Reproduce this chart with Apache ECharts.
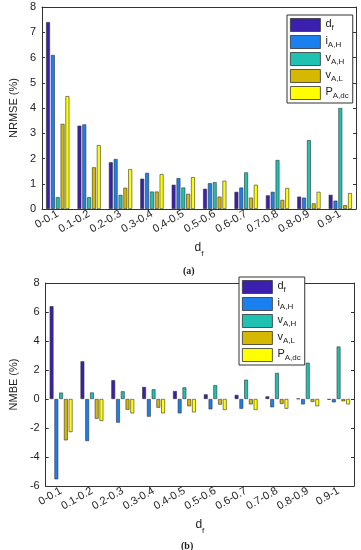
<!DOCTYPE html>
<html><head><meta charset="utf-8">
<script src="https://cdn.jsdelivr.net/npm/echarts@6/dist/echarts.min.js"></script>
<style>html,body{margin:0;padding:0;background:#fff}#c{width:361px;height:550px}</style>
</head><body><div id="c"></div>
<script>
const categories = ['0-0.1','0.1-0.2','0.2-0.3','0.3-0.4','0.4-0.5','0.5-0.6','0.6-0.7','0.7-0.8','0.8-0.9','0.9-1'];
const seriesNames = ['d_f','i_AH','v_AH','v_AL','P_Adc'];
// (a) NRMSE (%)
const nrmse_df  = [7.4, 3.3, 1.85, 1.2, 0.96, 0.8, 0.68, 0.54, 0.49, 0.56];
const nrmse_iAH = [6.1, 3.35, 1.98, 1.43, 1.22, 1.02, 0.85, 0.68, 0.45, 0.33];
const nrmse_vAH = [0.47, 0.47, 0.56, 0.69, 0.85, 1.06, 1.45, 1.94, 2.73, 4.0];
const nrmse_vAL = [3.37, 1.65, 0.84, 0.69, 0.6, 0.49, 0.45, 0.36, 0.22, 0.15];
const nrmse_PA  = [4.47, 2.53, 1.58, 1.38, 1.26, 1.12, 0.96, 0.83, 0.68, 0.63];
// (b) NMBE (%)
const nmbe_df  = [6.4, 2.6, 1.3, 0.83, 0.55, 0.32, 0.28, 0.18, 0.03, -0.05];
const nmbe_iAH = [-5.54, -2.9, -1.63, -1.22, -0.99, -0.71, -0.67, -0.57, -0.37, -0.23];
const nmbe_vAH = [0.44, 0.45, 0.53, 0.67, 0.8, 0.95, 1.33, 1.8, 2.5, 3.62];
const nmbe_vAL = [-2.85, -1.36, -0.74, -0.6, -0.5, -0.39, -0.37, -0.34, -0.2, -0.16];
const nmbe_PA  = [-2.28, -1.52, -0.99, -0.99, -0.92, -0.76, -0.76, -0.67, -0.5, -0.37];
const yTicksA = [0, 8, 1];
const yTicksB = [-6, 8, 2];

const colors = ['#3b1fae', '#1a80f0', '#1fc2b0', '#d6b800', '#ffff00'];
const FONT = 'Liberation Sans';
const legendFmt = {
  'd_f': '{m|d}{s|f}',
  'i_AH': '{m|i}{s|A,H}',
  'v_AH': '{m|v}{s|A,H}',
  'v_AL': '{m|v}{s|A,L}',
  'P_Adc': '{m|P}{s|A,dc}'
};
const rich = {
  m: {fontSize: 11, lineHeight: 11, fontFamily: FONT, color: '#222', padding: [0,0,3,0]},
  s: {fontSize: 8, lineHeight: 8, fontFamily: FONT, color: '#222', padding: [6,0,0,0]}
};
const dataA = [nrmse_df, nrmse_iAH, nrmse_vAH, nrmse_vAL, nrmse_PA];
const dataB = [nmbe_df, nmbe_iAH, nmbe_vAH, nmbe_vAL, nmbe_PA];

function xAxes(gi) {
  return [{
    type: 'category', gridIndex: gi, data: categories, position: 'bottom',
    axisLine: {onZero: false, lineStyle: {color: '#333', width: 1}},
    axisTick: {inside: true, alignWithLabel: true, length: 3, lineStyle: {color: '#333'}},
    axisLabel: {rotate: 30, fontSize: 11, fontFamily: FONT, color: '#222', margin: 4},
    name: '{m|d}{s|f}', nameLocation: 'middle', nameGap: 35,
    nameTextStyle: {rich: {m: {fontSize: 12, lineHeight: 12, fontFamily: FONT, color:'#222', padding:[0,0,4,0]}, s: {fontSize: 8, lineHeight: 8, fontFamily: FONT, color:'#222', padding:[8,0,0,0]}}}
  }, {
    type: 'category', gridIndex: gi, data: categories, position: 'top',
    axisLine: {onZero: false, lineStyle: {color: '#333', width: 1}},
    axisTick: {inside: true, alignWithLabel: true, length: 3, lineStyle: {color: '#333'}},
    axisLabel: {show: false}
  }];
}
function yAxes(gi, t, name) {
  return [{
    type: 'value', gridIndex: gi, min: t[0], max: t[1], interval: t[2], position: 'left',
    axisLine: {show: true, onZero: false, lineStyle: {color: '#333'}},
    axisTick: {show: true, inside: true, length: 3, lineStyle: {color: '#333'}},
    axisLabel: {fontSize: 11, fontFamily: FONT, color: '#222', margin: 6},
    splitLine: {show: false},
    name: name, nameLocation: 'middle', nameGap: 20,
    nameTextStyle: {fontSize: 11, fontFamily: FONT, color: '#222'}
  }, {
    type: 'value', gridIndex: gi, min: t[0], max: t[1], interval: t[2], position: 'right',
    axisLine: {show: true, onZero: false, lineStyle: {color: '#333'}},
    axisTick: {show: true, inside: true, length: 3, lineStyle: {color: '#333'}},
    axisLabel: {show: false}, splitLine: {show: false}
  }];
}
const series = [];
[dataA, dataB].forEach((d, gi) => {
  d.forEach((vals, k) => {
    series.push({
      type: 'bar', name: seriesNames[k], xAxisIndex: gi*2, yAxisIndex: gi*2,
      data: vals, barCategoryGap: '26%', barGap: '25%',
      itemStyle: {color: colors[k], borderColor: '#333', borderWidth: 0.6},
      emphasis: {disabled: true}, animation: false
    });
  });
});
function legend(left, top) {
  return {
    orient: 'vertical', left: left, top: top, data: seriesNames,
    itemWidth: 30, itemHeight: 13, itemGap: 3,
    backgroundColor: '#fff', borderColor: '#333', borderWidth: 1, padding: [3, 4, 3, 3],
    formatter: n => legendFmt[n],
    textStyle: {rich: rich},
    icon: 'rect', z: 10,
    itemStyle: {borderColor: '#333', borderWidth: 0.8}
  };
}
const chart = echarts.init(document.getElementById('c'), null, {renderer: 'canvas'});
chart.setOption({
  animation: false,
  color: colors,
  grid: [
    {left: 34, top: 7, right: 5, height: 202},
    {left: 34, top: 283, right: 7, height: 203}
  ],
  xAxis: [...xAxes(0), ...xAxes(1)],
  yAxis: [...yAxes(0, yTicksA, 'NRMSE (%)'), ...yAxes(1, yTicksB, 'NMBE (%)')],
  legend: [legend(287, 15), legend(239, 277)],
  title: [
    {text: '(a)', left: 178, top: 261, textStyle: {fontSize: 10, fontWeight: 'bold', fontFamily: 'Liberation Serif', color: '#222'}},
    {text: '(b)', left: 176, top: 536, textStyle: {fontSize: 10, fontWeight: 'bold', fontFamily: 'Liberation Serif', color: '#222'}}
  ],
  series: series
});
</script>
</body></html>
